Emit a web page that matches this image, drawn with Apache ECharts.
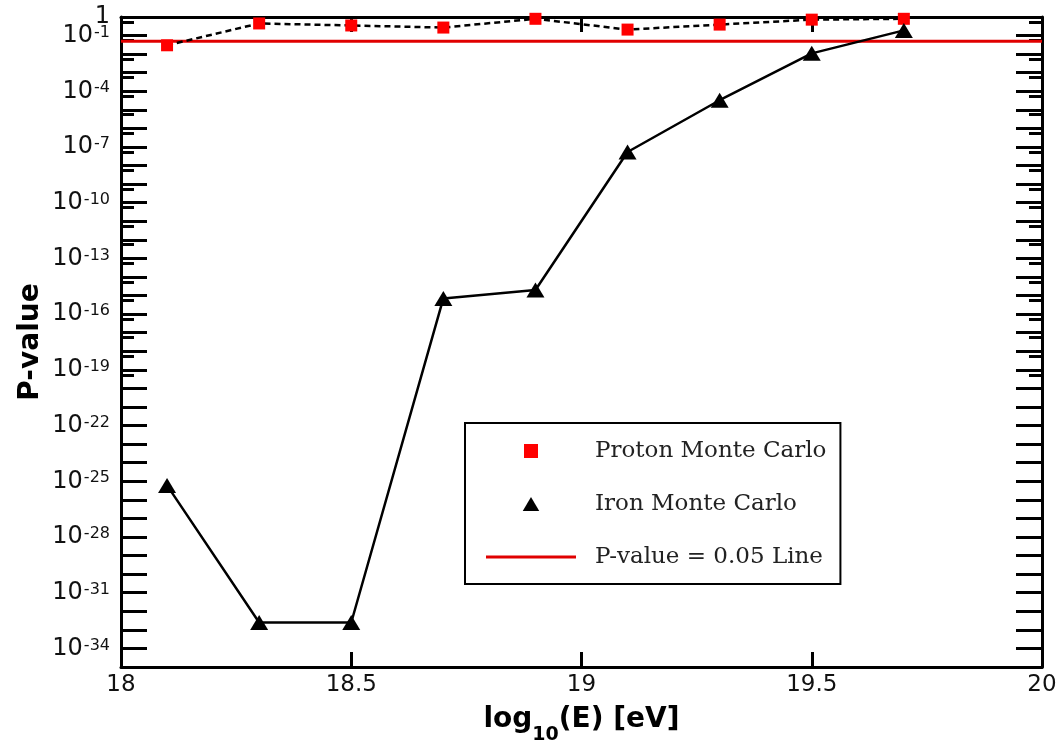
<!DOCTYPE html>
<html>
<head>
<meta charset="utf-8">
<script src="https://cdn.jsdelivr.net/npm/echarts@6/dist/echarts.min.js"></script>
<style>
  html, body { margin: 0; padding: 0; background: #fff; }
  #container { width: 1062px; height: 755px; }
</style>
</head>
<body>
<div id="container"></div>
<script>
// log10(E) bins
var energy = [18.1, 18.3, 18.5, 18.7, 18.9, 19.1, 19.3, 19.5, 19.7];
// P-values
var protonP = [0.03, 0.45, 0.35, 0.27, 0.8, 0.21, 0.39, 0.72, 0.8];
var ironP = [6e-26, 2.5e-33, 2.5e-33, 7e-16, 2e-15, 5.4e-8, 3.3e-5, 0.011, 0.19];
var threshold = 0.05;
// exponents that get a label on the P-value axis
var yLabelPowers = [0, -1, -4, -7, -10, -13, -16, -19, -22, -25, -28, -31, -34];

var xMin = 18, xMax = 20;
var yMin = 1e-35, yMax = 1;

function pairs(xs, ys) {
	return xs.map(function (x, i) { return [x, ys[i]]; });
}

var dom = document.getElementById("container");
var myChart = echarts.init(dom, null, { renderer: 'canvas' });

var labelFont = 'DejaVu Sans, Verdana, sans-serif';

function powerOf(v) {
	return Math.round(Math.log(v) / Math.LN10);
}

// powers of ten below 1
function yLabel(v) {
	var p = powerOf(v);
	if (p === 0 || yLabelPowers.indexOf(p) < 0) return '';
	return '{b|10}{s|' + p + '}';
}

// the "1" at the top sits on its own axis so it does not hide 10^-1
function yLabelOne(v) {
	return powerOf(v) === 0 && yLabelPowers.indexOf(0) >= 0 ? '{b|1}' : '';
}

var yRich = {
	b: { fontSize: 24, lineHeight: 22, color: '#111', fontFamily: labelFont },
	s: { fontSize: 16, lineHeight: 14, color: '#111', fontFamily: labelFont, verticalAlign: 'top', padding: [0, 0, 0, 1] }
};

function yAxisBase(pos) {
	return {
		type: 'log',
		logBase: 10,
		position: pos,
		min: yMin,
		max: yMax,
		interval: 1,
		axisLine: { show: true, onZero: false, lineStyle: { color: '#000', width: 3 } },
		axisTick: { show: true, inside: true, length: 26, lineStyle: { color: '#000', width: 3 } },
		minorTick: { show: true, splitNumber: 2, length: 13, lineStyle: { color: '#000', width: 3 } },
		splitLine: { show: false },
		axisLabel: { show: false }
	};
}

var yLeft = yAxisBase('left');
yLeft.name = 'P-value';
yLeft.nameLocation = 'middle';
yLeft.nameGap = 76;
yLeft.nameMoveOverlap = false;
yLeft.nameTextStyle = { fontSize: 28, fontWeight: 'bold', color: '#000', fontFamily: labelFont };
yLeft.axisLabel = {
	show: true, margin: 11, formatter: yLabel, rich: yRich,
	hideOverlap: false, showMinLabel: true, showMaxLabel: true
};

var yRight = yAxisBase('right');

var yTopLabel = yAxisBase('left');
yTopLabel.axisLine = { show: false };
yTopLabel.axisTick = { show: false };
yTopLabel.minorTick = { show: false };
yTopLabel.axisLabel = {
	show: true, margin: 11, formatter: yLabelOne, rich: yRich,
	hideOverlap: false, showMinLabel: true, showMaxLabel: true
};

option = {
	animation: false,
	backgroundColor: '#fff',
	grid: { left: 121, right: 20, top: 17, bottom: 88, outerBoundsMode: 'none', containLabel: false },
	legend: {
		orient: 'vertical',
		left: 465,
		top: 423,
		padding: [15, 14, 14, 21],
		itemGap: 27,
		itemWidth: 90,
		itemHeight: 14,
		borderColor: '#000',
		borderWidth: 2,
		borderRadius: 0,
		backgroundColor: '#fff',
		textStyle: { fontSize: 23, color: '#222', fontFamily: 'DejaVu Serif, Times New Roman, serif', lineHeight: 26, padding: [0, 0, 0, 14] },
		data: [
			{ name: 'Proton Monte Carlo', icon: 'path://M0,0H1V1H0Z' },
			{ name: 'Iron Monte Carlo', icon: 'path://M0.5,0L1,0.85H0Z' },
			{ name: 'P-value = 0.05 Line', icon: 'path://M0,0H90V3H0Z' }
		]
	},
	xAxis: [
		{
			type: 'value',
			position: 'bottom',
			min: xMin,
			max: xMax,
			interval: 0.5,
			name: '{a|log}{sub|10}{a|(E) [eV]}',
			nameLocation: 'middle',
			nameGap: 36,
			nameMoveOverlap: false,
			nameTextStyle: {
				rich: {
					a: { fontSize: 28, fontWeight: 'bold', color: '#000', fontFamily: labelFont, lineHeight: 34 },
					sub: { fontSize: 19, fontWeight: 'bold', color: '#000', fontFamily: labelFont, verticalAlign: 'bottom', lineHeight: 20, padding: [0, 0, -8, 0] }
				}
			},
			axisLine: { show: true, onZero: false, lineStyle: { color: '#000', width: 3 } },
			axisTick: { show: true, inside: true, length: 15, lineStyle: { color: '#000', width: 3 } },
			splitLine: { show: false },
			axisLabel: { margin: 7, fontSize: 23, color: '#111', fontFamily: labelFont, showMinLabel: true, showMaxLabel: true }
		},
		{
			type: 'value',
			position: 'top',
			min: xMin,
			max: xMax,
			interval: 0.5,
			axisLine: { show: true, onZero: false, lineStyle: { color: '#000', width: 3 } },
			axisTick: { show: true, inside: true, length: 15, lineStyle: { color: '#000', width: 3 } },
			splitLine: { show: false },
			axisLabel: { show: false }
		}
	],
	yAxis: [yLeft, yRight, yTopLabel],
	series: [
		{
			name: 'P-value = 0.05 Line',
			type: 'line',
			data: [[xMin, threshold], [xMax, threshold]],
			symbol: 'none',
			itemStyle: { color: '#e00000' },
			lineStyle: { color: '#e00000', width: 3 },
			z: 3
		},
		{
			name: 'Proton Monte Carlo',
			type: 'line',
			data: pairs(energy, protonP),
			symbol: 'rect',
			symbolSize: 12,
			itemStyle: { color: '#ff0000' },
			lineStyle: { color: '#000', width: 2.5, type: [6, 4] },
			z: 4
		},
		{
			name: 'Iron Monte Carlo',
			type: 'line',
			data: pairs(energy, ironP),
			symbol: 'triangle',
			symbolSize: [18, 15],
			itemStyle: { color: '#000' },
			lineStyle: { color: '#000', width: 2.5 },
			z: 4
		}
	]
};

if (option && typeof option === "object") {
	myChart.setOption(option, true);
}
</script>
</body>
</html>
